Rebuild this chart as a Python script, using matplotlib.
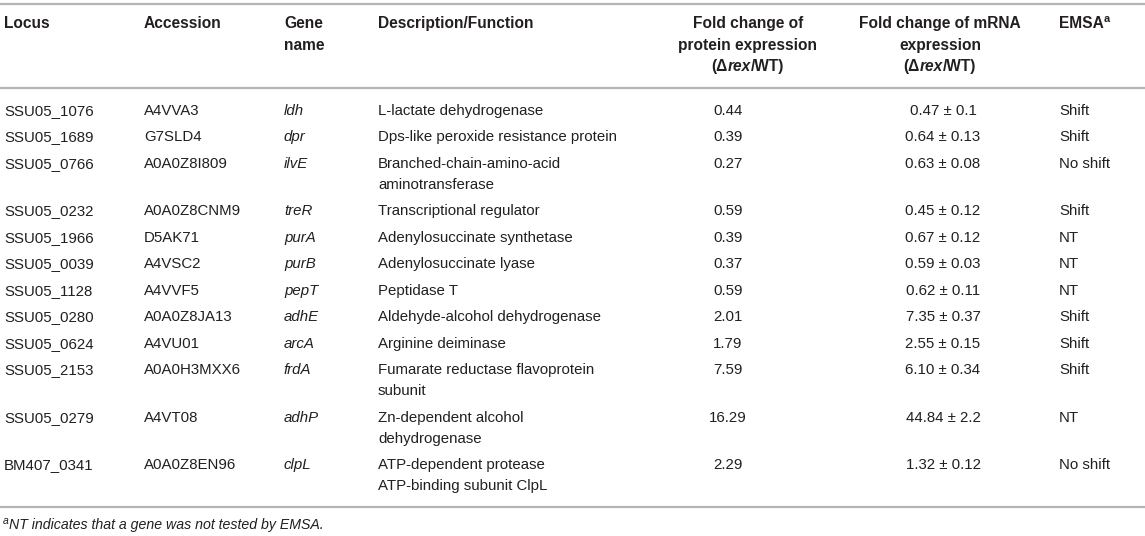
import numpy as np
import matplotlib
matplotlib.use("Agg")
import matplotlib.pyplot as plt

plt.rcParams['font.family'] = ['Liberation Sans', 'DejaVu Sans']

# table content
locus = ['SSU05_1076', 'SSU05_1689', 'SSU05_0766', 'SSU05_0232', 'SSU05_1966', 'SSU05_0039',
         'SSU05_1128', 'SSU05_0280', 'SSU05_0624', 'SSU05_2153', 'SSU05_0279', 'BM407_0341']
accession = ['A4VVA3', 'G7SLD4', 'A0A0Z8I809', 'A0A0Z8CNM9', 'D5AK71', 'A4VSC2',
             'A4VVF5', 'A0A0Z8JA13', 'A4VU01', 'A0A0H3MXX6', 'A4VT08', 'A0A0Z8EN96']
gene = ['ldh', 'dpr', 'ilvE', 'treR', 'purA', 'purB', 'pepT', 'adhE', 'arcA', 'frdA', 'adhP', 'clpL']
description = ['L-lactate dehydrogenase',
               'Dps-like peroxide resistance protein',
               'Branched-chain-amino-acid\naminotransferase',
               'Transcriptional regulator',
               'Adenylosuccinate synthetase',
               'Adenylosuccinate lyase',
               'Peptidase T',
               'Aldehyde-alcohol dehydrogenase',
               'Arginine deiminase',
               'Fumarate reductase flavoprotein\nsubunit',
               'Zn-dependent alcohol\ndehydrogenase',
               'ATP-dependent protease\nATP-binding subunit ClpL']
protein_fc = ['0.44', '0.39', '0.27', '0.59', '0.39', '0.37', '0.59', '2.01', '1.79', '7.59', '16.29', '2.29']
mrna_fc = ['0.47', '0.64', '0.63', '0.45', '0.67', '0.59', '0.62', '7.35', '2.55', '6.10', '44.84', '1.32']
mrna_sd = ['0.1', '0.13', '0.08', '0.12', '0.12', '0.03', '0.11', '0.37', '0.15', '0.34', '2.2', '0.12']
emsa = ['Shift', 'Shift', 'No shift', 'Shift', 'NT', 'NT', 'NT', 'Shift', 'Shift', 'Shift', 'NT', 'No shift']
footnote = 'NT indicates that a gene was not tested by EMSA.'

W, H = 1145, 536
fig = plt.figure(figsize=(W / 100, H / 100), dpi=100)
ax = fig.add_axes([0, 0, 1, 1])
ax.set_xlim(0, W)
ax.set_ylim(H, 0)
ax.axis('off')

txt = '#231f20'
fs = 10.8
hfs = 11.2
line_col = '#b5b5b5'
base = 5.3  # baseline offset below the row's visual centre

x_locus, x_acc, x_gene, x_desc = 4, 144, 284, 378
x_prot_h, x_prot = 748, 728
x_mrna_h, x_mrna = 940, 943
x_emsa = 1059

# horizontal rules
for yl in [4, 87.5, 507]:
    ax.plot([0, W], [yl, yl], color=line_col, lw=1.6, solid_capstyle='butt')

fig.canvas.draw()
renderer = fig.canvas.get_renderer()


def cell(x, y, s, ha='left', size=fs, **kw):
    return ax.text(x, y + base, s, fontsize=size, color=txt, va='baseline', ha=ha, **kw)


def pieces(x, y, parts, ha='left', size=fs):
    # draw consecutive text pieces with different styles
    objs = []
    for s, kw in parts:
        t = ax.text(0, y + base, s, fontsize=kw.get('size', size), color=txt, va='baseline',
                    fontweight=kw.get('weight', 'normal'), fontstyle=kw.get('style', 'normal'))
        objs.append((t, kw.get('dy', 0)))
    widths = [t.get_window_extent(renderer).width for t, _ in objs]
    total = sum(widths)
    x0 = x - total / 2 if ha == 'center' else x
    for (t, dy), w in zip(objs, widths):
        t.set_position((x0, y + base + dy))
        x0 += w


# header
hy = [23, 45, 66]
cell(x_locus, hy[0], 'Locus', size=hfs, fontweight='bold')
cell(x_acc, hy[0], 'Accession', size=hfs, fontweight='bold')
cell(x_gene, hy[0], 'Gene', size=hfs, fontweight='bold')
cell(x_gene, hy[1], 'name', size=hfs, fontweight='bold')
cell(x_desc, hy[0], 'Description/Function', size=hfs, fontweight='bold')
cell(x_prot_h, hy[0], 'Fold change of', ha='center', size=hfs, fontweight='bold')
cell(x_prot_h, hy[1], 'protein expression', ha='center', size=hfs, fontweight='bold')
cell(x_mrna_h, hy[0], 'Fold change of mRNA', ha='center', size=hfs, fontweight='bold')
cell(x_mrna_h, hy[1], 'expression', ha='center', size=hfs, fontweight='bold')
for xc in [x_prot_h, x_mrna_h]:
    pieces(xc, hy[2], [('(\u0394', {'weight': 'bold'}),
                       ('rex', {'weight': 'bold', 'style': 'italic'}),
                       ('/WT)', {'weight': 'bold'})], ha='center', size=hfs)
pieces(x_emsa, hy[0], [('EMSA', {'weight': 'bold'}), ('a', {'weight': 'bold', 'size': 7.8, 'dy': -6.5})],
       size=hfs)

# body rows
row_gap = 26.5
sub_gap = 21
y = 109.5
for i in range(len(locus)):
    cell(x_locus, y, locus[i])
    cell(x_acc, y, accession[i])
    cell(x_gene, y, gene[i], fontstyle='italic')
    lines = description[i].split('\n')
    for k, ln in enumerate(lines):
        cell(x_desc, y + k * sub_gap, ln)
    cell(x_prot, y, protein_fc[i], ha='center')
    cell(x_mrna, y, f'{mrna_fc[i]} \u00b1 {mrna_sd[i]}', ha='center')
    cell(x_emsa, y, emsa[i])
    y += (len(lines) - 1) * sub_gap + row_gap

# footnote
pieces(3, 524, [('a', {'style': 'italic', 'size': 7.5, 'dy': -5}),
                (footnote, {'style': 'italic', 'size': 10.2})])

fig.savefig('out.png', dpi=100)
